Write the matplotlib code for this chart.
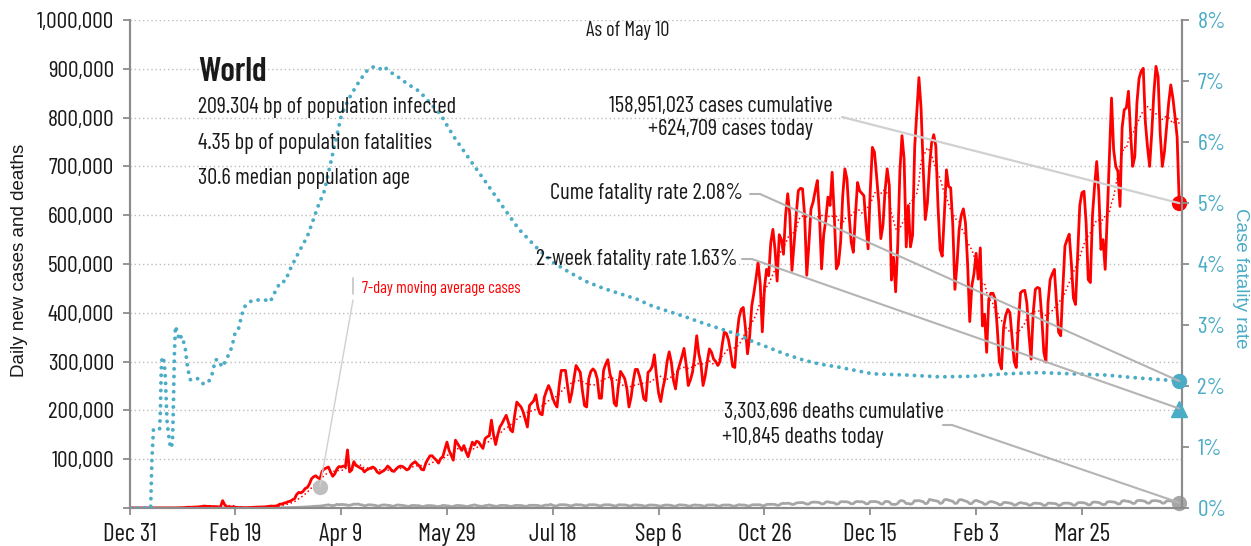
import numpy as np
import pandas as pd
import matplotlib
matplotlib.use("Agg")
import matplotlib.pyplot as plt
from matplotlib.font_manager import FontProperties, fontManager
from matplotlib.patches import ConnectionPatch

# ---------------- data (day 0 = Dec 31, 2019) ----------------
# daily new cases, thousands, one row per week (Tue..Mon)
cases_k = [
    0.03, 0, 0, 0, 0, 0, 0,
    0, 0, 0, 0, 0, 0, 0,
    0, 0, 0, 0, 0, 0.02, 0.08,
    0.15, 0.1, 0.26, 0.45, 0.68, 0.8, 1.4,
    1.6, 1.5, 1.7, 2.0, 2.1, 2.6, 3.0,
    3.9, 3.7, 3.2, 3.4, 2.7, 3.0, 2.6,
    2.0, 2.0, 15.1, 6.5, 2.7, 2.1, 2.1,
    1.9, 1.8, 0.4, 0.9, 1.0, 0.6, 0.5,
    0.8, 0.9, 1.2, 1.8, 1.8, 1.9, 2.0,
    2.3, 2.3, 2.8, 3.2, 4.0, 3.7, 4.0,
    5, 8, 8, 10, 11, 13, 14,
    17, 19, 28, 32, 31, 34, 40,
    42, 49, 60, 64, 66, 62, 60,
    75, 80, 82, 84, 74, 65, 70,
    80, 85, 84, 86, 84, 119, 74,
    78, 95, 87, 85, 82, 80, 74,
    78, 80, 82, 84, 81, 74, 71,
    74, 76, 80, 86, 82, 76, 75,
    80, 84, 86, 85, 82, 78, 80,
    88, 92, 95, 90, 86, 79, 78,
    92, 100, 107, 107, 102, 98, 92,
    101, 105, 120, 135, 118, 108, 98,
    139, 132, 125, 118, 128, 115, 105,
    120, 135, 129, 137, 135, 128, 122,
    142, 146, 148, 180, 150, 130, 150,
    166, 173, 182, 190, 176, 160, 156,
    190, 217, 212, 207, 197, 182, 166,
    210, 215, 220, 232, 205, 193, 191,
    227, 240, 251, 241, 225, 214, 207,
    250, 282, 282, 282, 250, 217, 236,
    265, 292, 285, 278, 240, 210, 207,
    265, 280, 285, 280, 265, 225, 225,
    282, 295, 304, 275, 260, 215, 209,
    250, 280, 273, 265, 245, 207, 227,
    260, 284, 284, 270, 250, 224, 220,
    278, 282, 290, 314, 271, 235, 218,
    245, 265, 300, 320, 299, 262, 244,
    280, 295, 310, 327, 295, 251, 262,
    278, 310, 353, 316, 295, 251, 270,
    300, 326, 319, 305, 300, 292, 300,
    333, 360, 358, 345, 320, 290, 288,
    354, 390, 407, 411, 370, 316, 350,
    414, 440, 470, 503, 460, 361, 450,
    489, 476, 544, 571, 530, 465, 560,
    550, 520, 600, 644, 600, 487, 540,
    600, 650, 655, 654, 600, 477, 540,
    613, 627, 650, 671, 600, 490, 560,
    590, 637, 620, 688, 600, 490, 500,
    545, 640, 695, 674, 600, 545, 524,
    600, 667, 650, 645, 640, 580, 531,
    650, 739, 729, 680, 627, 552, 579,
    650, 695, 661, 467, 514, 443, 540,
    690, 763, 715, 535, 620, 535, 559,
    740, 810, 882, 820, 700, 591, 625,
    700, 748, 765, 741, 620, 530, 516,
    600, 693, 659, 656, 580, 448, 500,
    571, 600, 613, 584, 500, 382, 455,
    480, 522, 469, 533, 373, 397, 319,
    428, 440, 440, 428, 370, 300, 285,
    370, 395, 407, 400, 350, 300, 288,
    380, 441, 445, 446, 420, 353, 305,
    400, 448, 452, 450, 394, 320, 299,
    420, 468, 480, 489, 421, 360, 353,
    450, 537, 550, 561, 503, 430, 417,
    520, 620, 646, 649, 584, 468, 462,
    600, 660, 710, 646, 530, 550, 489,
    600, 720, 840, 734, 700, 690, 618,
    779, 816, 820, 854, 768, 700, 720,
    830, 880, 895, 901, 790, 740, 700,
    768, 850, 905, 884, 768, 700, 730,
    780, 830, 867, 840, 802, 760, 624.709,
]

# daily new deaths, thousands
deaths_k = [
    0, 0, 0, 0, 0, 0, 0,
    0, 0, 0, 0, 0, 0, 0,
    0, 0, 0, 0, 0, 0, 0,
    0.01, 0.01, 0.01, 0.02, 0.015, 0.024, 0.026,
    0.026, 0.038, 0.043, 0.046, 0.045, 0.057, 0.064,
    0.066, 0.073, 0.073, 0.086, 0.089, 0.097, 0.108,
    0.097, 0.254, 0.13, 0.143, 0.142, 0.106, 0.098,
    0.139, 0.115, 0.118, 0.109, 0.097, 0.15, 0.071,
    0.052, 0.03, 0.038, 0.065, 0.058, 0.067, 0.073,
    0.083, 0.1, 0.108, 0.103, 0.246, 0.237, 0.295,
    0.35, 0.45, 0.43, 0.56, 0.67, 0.8, 0.96,
    0.96, 1.0, 1.2, 1.4, 1.6, 1.7, 1.9,
    2.1, 2.5, 2.8, 3.4, 3.5, 3.5, 3.9,
    4.5, 4.9, 5.9, 6.5, 5.5, 4.9, 5.5,
    7.6, 6.6, 7.3, 7.1, 6.6, 5.8, 5.4,
    6.6, 7.9, 7.6, 8.4, 6.6, 6.3, 4.3,
    5.6, 6.7, 6.5, 6.0, 5.4, 4.3, 3.9,
    5.9, 6.1, 6.3, 5.4, 5.2, 3.8, 3.6,
    5.9, 6.2, 5.6, 5.3, 4.7, 3.7, 3.1,
    4.8, 5.3, 5.1, 4.8, 4.6, 3.1, 3.1,
    4.4, 5.0, 5.0, 4.7, 4.3, 3.0, 3.4,
    3.6, 5.4, 5.0, 4.6, 4.0, 2.8, 3.1,
    4.8, 5.3, 5.0, 4.6, 4.1, 3.3, 3.2,
    4.7, 5.2, 6.5, 5.0, 4.2, 3.5, 3.5,
    4.9, 5.3, 6.3, 5.0, 4.4, 3.4, 3.6,
    5.1, 5.4, 5.2, 5.1, 4.2, 3.3, 3.6,
    5.0, 5.4, 5.3, 5.0, 4.4, 3.5, 3.7,
    5.6, 5.4, 5.6, 5.4, 5.1, 3.9, 3.8,
    5.6, 6.0, 5.8, 7.4, 5.5, 4.2, 4.3,
    6.5, 6.8, 6.6, 6.6, 5.8, 4.6, 4.5,
    6.0, 7.0, 6.4, 6.6, 5.9, 4.6, 4.5,
    6.7, 6.6, 6.8, 6.5, 5.8, 4.5, 4.6,
    6.4, 6.6, 6.5, 6.6, 5.6, 4.4, 4.2,
    6.4, 6.6, 6.3, 6.3, 5.6, 4.3, 4.1,
    6.1, 6.4, 6.1, 5.8, 5.4, 4.1, 3.9,
    5.4, 6.2, 6.0, 5.8, 5.5, 4.2, 3.8,
    4.9, 6.0, 6.0, 5.9, 5.3, 3.9, 3.7,
    5.5, 6.5, 6.1, 6.0, 5.4, 4.0, 3.9,
    5.5, 6.3, 5.8, 5.7, 5.4, 4.1, 3.8,
    6.1, 6.1, 5.9, 6.3, 5.4, 3.8, 3.9,
    5.6, 6.2, 6.0, 6.2, 5.6, 4.0, 3.9,
    5.3, 6.8, 6.1, 6.1, 5.7, 4.3, 4.1,
    6.3, 6.7, 6.6, 6.8, 6.5, 4.7, 4.9,
    7.2, 7.5, 7.5, 7.6, 7.2, 5.6, 6.0,
    8.9, 9.6, 9.3, 9.7, 9.3, 7.3, 7.6,
    10.3, 10.8, 11.0, 11.2, 9.9, 7.9, 8.1,
    11.3, 12.0, 11.9, 11.9, 10.8, 8.4, 8.6,
    12.2, 12.8, 11.4, 11.2, 10.3, 7.7, 8.7,
    12.9, 12.9, 12.7, 12.7, 11.3, 8.5, 8.9,
    12.5, 13.5, 12.6, 12.9, 11.8, 8.5, 8.7,
    13.2, 12.9, 13.5, 12.5, 11.7, 8.5, 8.4,
    13.3, 13.5, 12.5, 7.6, 7.5, 7.3, 9.5,
    14.7, 15.2, 13.6, 9.1, 9.2, 7.8, 9.4,
    15.1, 14.5, 15.3, 14.0, 12.8, 8.9, 9.8,
    17.7, 16.4, 15.5, 14.4, 13.8, 9.3, 10.4,
    16.8, 17.5, 16.2, 14.8, 13.6, 9.4, 10.0,
    16.7, 17.2, 15.7, 14.2, 12.7, 8.8, 9.1,
    14.0, 15.7, 14.0, 12.4, 11.0, 7.4, 8.2,
    11.9, 13.3, 12.7, 11.0, 9.8, 6.6, 7.0,
    11.2, 11.4, 10.7, 10.0, 8.9, 5.8, 6.5,
    9.6, 11.2, 10.0, 9.4, 8.6, 5.6, 6.2,
    9.3, 10.0, 9.5, 9.4, 8.1, 5.1, 5.9,
    9.7, 10.0, 9.4, 9.2, 8.3, 5.1, 6.3,
    9.4, 10.1, 9.9, 9.8, 8.4, 5.6, 6.3,
    10.5, 11.3, 10.9, 10.6, 9.2, 6.4, 6.6,
    11.6, 12.3, 11.8, 11.2, 8.9, 6.8, 7.4,
    12.4, 13.0, 12.7, 12.3, 11.2, 8.3, 8.7,
    14.3, 15.1, 14.0, 13.5, 12.4, 9.3, 9.6,
    14.9, 15.5, 15.0, 14.7, 13.1, 9.9, 10.1,
    14.7, 15.0, 15.0, 14.3, 13.4, 9.9, 10.1,
    14.4, 14.7, 14.3, 13.9, 12.6, 8.9, 10.845,
]

# cumulative case fatality rate (%) read at these days
cfr_days = [0, 10, 10.6, 11.3, 14.2, 14.6, 15.0, 15.4, 16.4, 17.0, 17.4, 17.8, 18.6,
            19.4, 20.3, 20.7, 21.2, 21.7, 22.5, 23.6, 24.5, 25.6, 26.4, 27.2, 28.0,
            28.8, 30.3, 32.7, 35.0, 37.4, 39.0, 40.6, 42.1, 43.7, 45.3, 46.9, 48.4,
            50.0, 51.6, 53.1, 54.4, 56.3, 58.6, 61.0, 64.2, 66.5, 68.1, 69.7, 71.2,
            73.6, 76.0, 78.3, 80.7, 84, 87, 89, 92, 95, 97, 100, 103, 106, 109,
            112, 115, 118, 120, 124, 128, 131, 137, 147, 153, 161, 169, 177, 184,
            192, 200, 208, 216, 224, 232, 240, 247, 255, 263, 271, 279, 287, 295,
            302, 310, 318, 326, 335, 351, 367, 383, 398, 414, 430, 445, 461, 477,
            493, 496]
cfr_pct = [0, 0, 0.8, 1.28, 1.28, 1.6, 2.27, 2.48, 2.40, 2.1, 1.72, 1.39, 1.17,
           0.98, 1.06, 1.6, 2.5, 2.98, 2.89, 2.75, 2.82, 2.72, 2.6, 2.37, 2.21,
           2.1, 2.12, 2.12, 2.03, 2.07, 2.19, 2.43, 2.43, 2.31, 2.4, 2.52, 2.64,
           2.89, 2.95, 3.17, 3.3, 3.37, 3.41, 3.41, 3.41, 3.38, 3.5, 3.6, 3.7,
           3.72, 3.92, 4.08, 4.24, 4.45, 4.74, 4.94, 5.19, 5.65, 5.96, 6.42, 6.67,
           6.85, 7.02, 7.16, 7.23, 7.19, 7.24, 7.13, 7.04, 6.96, 6.83, 6.45, 6.1,
           5.7, 5.31, 4.91, 4.57, 4.28, 4.03, 3.86, 3.71, 3.6, 3.51, 3.42, 3.31,
           3.22, 3.13, 3.03, 2.94, 2.85, 2.72, 2.63, 2.52, 2.43, 2.36, 2.31, 2.2,
           2.18, 2.15, 2.16, 2.2, 2.22, 2.2, 2.18, 2.13, 2.09, 2.08]

tick_days = [0, 50, 100, 150, 200, 250, 300, 350, 400, 450]
tick_labels = ["Dec 31", "Feb 19", "Apr 9", "May 29", "Jul 18", "Sep 6",
               "Oct 26", "Dec 15", "Feb 3", "Mar 25"]

cases_cumulative = 158951023
cases_today = 624709
deaths_cumulative = 3303696
deaths_today = 10845
cume_fatality = 2.08
two_week_fatality = 1.63
infected_bp = 209.304
fatalities_bp = 4.35
median_age = 30.6
as_of = "May 10"
region = "World"
ma_note_day, ma_note_value = 90, 44000

# ---------------- fonts ----------------
names = {f.name for f in fontManager.ttflist}
COND_FAMILY = "DejaVu Sans"
for cand in ["Barlow Condensed", "Archivo Narrow", "Roboto Condensed",
             "PT Sans Narrow", "Liberation Sans Narrow"]:
    if cand in names:
        COND_FAMILY = cand
        break
REG_FAMILY = "Liberation Sans" if "Liberation Sans" in names else "DejaVu Sans"


def fp(size, weight="normal"):
    return FontProperties(family=[COND_FAMILY, "DejaVu Sans"], size=size, weight=weight)


RED = "#ff0000"
BLUE = "#4bacc6"
GRAY = "#a6a6a6"
SPINE = "#8c8c8c"
TXT = "#1a1a1a"

W, H = 1251, 546
fig = plt.figure(figsize=(W / 100, H / 100), dpi=100)
renderer = fig.canvas.get_renderer()
ax = fig.add_axes([129.5 / W, (H - 508) / H, (1182 - 129.5) / W, (508 - 20) / H])
ax2 = ax.twinx()


def fitted_size(s, target_w, weight="normal", base=14.0):
    t = fig.text(0, 0, s, fontproperties=fp(base, weight))
    w = t.get_window_extent(renderer).width
    t.remove()
    return base * target_w / w


cases = np.array(cases_k, dtype=float) * 1000
deaths = np.array(deaths_k, dtype=float) * 1000
days = np.arange(len(cases))
ma7 = pd.Series(cases).rolling(7, min_periods=1).mean()

ax.plot(days, deaths, color=GRAY, lw=2.0, zorder=3)
ax.plot(days, cases, color=RED, lw=2.0, zorder=4, solid_joinstyle="round")
ax.plot(days, ma7, color=RED, lw=1.3, linestyle=(0, (0.01, 2.3)),
        dash_capstyle="round", zorder=5)
ax2.plot(cfr_days, cfr_pct, color=BLUE, lw=2.8, linestyle=(0, (0.01, 1.95)),
         dash_capstyle="round", zorder=3)

xmax = 497.3
ax.set_xlim(0, xmax)
ax.set_ylim(0, 1_000_000)
ax2.set_ylim(0, 8)

yt = np.arange(0, 1_000_001, 100_000)
ax.set_yticks(yt)
ax.set_yticklabels([("" if v == 0 else f"{v:,}") for v in yt])
ax.set_xticks(tick_days)
ax.set_xticklabels(tick_labels)
ax2.set_yticks(range(0, 9))
ax2.set_yticklabels([f"{v}%" for v in range(0, 9)])

tick_size = fitted_size("1,000,000", 77)
xtick_size = fitted_size("Dec 31", 54)
for lab in ax.get_yticklabels():
    lab.set_fontproperties(fp(tick_size))
    lab.set_color(TXT)
for lab in ax.get_xticklabels():
    lab.set_fontproperties(fp(xtick_size))
    lab.set_color(TXT)
for lab in ax2.get_yticklabels():
    lab.set_fontproperties(fp(tick_size))
    lab.set_color(BLUE)

ax.yaxis.grid(True, color="#bdbdbd", linestyle=(0, (1, 2)), lw=1.0)
ax.set_axisbelow(True)
for a in (ax, ax2):
    a.spines["top"].set_visible(False)
    for s in ("left", "right", "bottom"):
        a.spines[s].set_color(SPINE)
        a.spines[s].set_linewidth(1.5)
ax.tick_params(axis="both", direction="out", length=5, width=1.3, color=SPINE, pad=6)
ax2.tick_params(axis="y", direction="out", length=5, width=1.3, color=SPINE, pad=6)
ax.tick_params(axis="x", pad=6)

REG = FontProperties(family=[REG_FAMILY, "DejaVu Sans"], size=13.5)
fig.text(20 / W, 1 - 260 / H, "Daily new cases and deaths", rotation=90,
         ha="center", va="center", fontproperties=REG, color=TXT)
fig.text(1240 / W, 1 - 278 / H, "Case fatality rate", rotation=270,
         ha="center", va="center", fontproperties=REG, color=BLUE)


def ftext(x, y, s, size, ha="left", va="center", color=TXT, weight="normal"):
    fig.text(x / W, 1 - y / H, s, ha=ha, va=va, color=color,
             fontproperties=fp(size, weight))


world_size = fitted_size(region, 69, weight="semibold")
ftext(198, 81, region, world_size, va="baseline", weight="semibold")
info1 = f"{infected_bp:.3f} bp of population infected"
info_size = fitted_size(info1, 258)
ftext(198, 107, info1, info_size)
ftext(198, 143, f"{fatalities_bp:.2f} bp of population fatalities", info_size)
ftext(198, 179, f"{median_age:.1f} median population age", info_size)
asof_txt = f"As of {as_of}"
ftext(628, 30, asof_txt, fitted_size(asof_txt, 83), ha="center")

c1 = f"{cases_cumulative:,} cases cumulative"
ann_size = fitted_size(c1, 224)
ftext(721, 107, c1, ann_size, ha="center")
ftext(731, 130, f"+{cases_today:,} cases today", ann_size, ha="center")
ftext(743, 193, f"Cume fatality rate {cume_fatality:.2f}%", ann_size, ha="right")
ftext(737, 259, f"2-week fatality rate {two_week_fatality:.2f}%", ann_size, ha="right")
ftext(724, 413, f"{deaths_cumulative:,} deaths cumulative", ann_size)
ftext(722, 438, f"+{deaths_today:,} deaths today", ann_size)
ma_txt = "7-day moving average cases"
ftext(362, 288, ma_txt, fitted_size(ma_txt, 158), color=RED)

# end markers
last = days[-1]
ax.plot([last], [cases_today], "o", color=RED, ms=10, clip_on=False, zorder=10)
ax.plot([last], [deaths_today], "o", color=GRAY, ms=10, clip_on=False, zorder=10)
ax2.plot([last], [cume_fatality], "o", color=BLUE, ms=10, clip_on=False, zorder=10)
ax2.plot([last], [two_week_fatality], "^", color=BLUE, ms=11, clip_on=False, zorder=10)
ax.plot([ma_note_day], [ma_note_value], "o", color="#bfbfbf", ms=10, zorder=10)


def connector(xy_px, target, axes, color, lw=1.5, elbow=None):
    x0, y0 = xy_px
    if elbow is not None:
        cp = ConnectionPatch(xyA=(x0, H - y0), coordsA="figure pixels",
                             xyB=(elbow, H - y0), coordsB="figure pixels",
                             color=color, lw=lw)
        fig.add_artist(cp)
        x0 = elbow
    cp = ConnectionPatch(xyA=(x0, H - y0), coordsA="figure pixels",
                         xyB=target, coordsB=axes.transData, color=color, lw=lw)
    fig.add_artist(cp)


connector((842, 117), (last, cases_today), ax, "#d0d0d0", 1.6)
connector((750, 194), (last, cume_fatality), ax2, "#b4b4b4", 1.5, elbow=760)
connector((742, 259), (last, two_week_fatality), ax2, "#b4b4b4", 1.5, elbow=752)
connector((943, 425), (last, deaths_today), ax, "#b4b4b4", 1.5, elbow=952)
cp = ConnectionPatch(xyA=(353, H - 278), coordsA="figure pixels",
                     xyB=(353, H - 294), coordsB="figure pixels",
                     color="#c8c8c8", lw=1.3)
fig.add_artist(cp)
connector((353, 300), (ma_note_day, ma_note_value), ax, "#d0d0d0", 1.0)

fig.savefig("out.png", dpi=100)
